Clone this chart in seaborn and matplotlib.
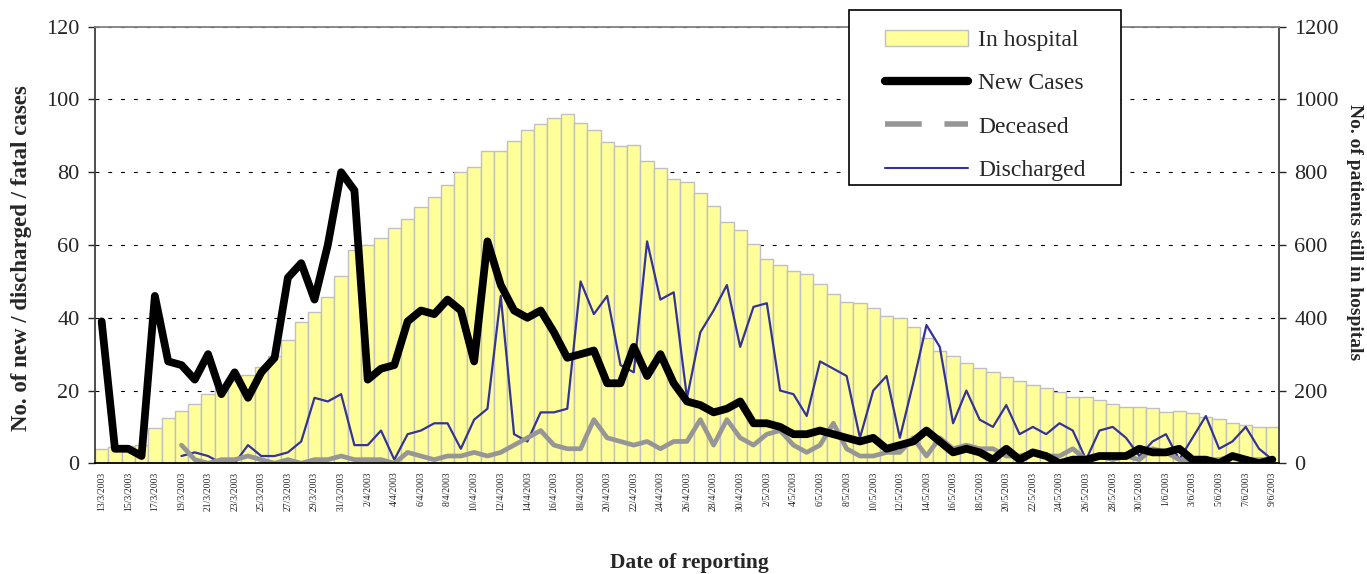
import numpy as np
import pandas as pd
import seaborn as sns
import matplotlib.pyplot as plt
from matplotlib.lines import Line2D
from matplotlib.patches import Patch, Rectangle

sns.set_style('white')
plt.rcParams['font.family'] = ['Liberation Serif', 'DejaVu Serif']

nan = np.nan

# daily figures, 13/3/2003 - 9/6/2003
in_hospital = [39, 44, 47, 50, 96, 124, 144, 163, 191, 206,
               225, 243, 266, 294, 339, 389, 415, 457, 516, 585,
               601, 618, 646, 672, 704, 733, 765, 801, 815, 858,
               858, 887, 915, 933, 950, 961, 936, 915, 883, 872,
               874, 831, 812, 782, 773, 743, 708, 663, 640, 603,
               562, 544, 528, 519, 494, 464, 444, 441, 426, 404,
               399, 374, 344, 310, 296, 275, 263, 250, 236, 227,
               216, 208, 195, 183, 182, 174, 163, 156, 156, 151,
               142, 145, 138, 127, 121, 112, 106, 101, 99]

new_cases = [39, 4, 4, 2, 46, 28, 27, 23, 30, 19,
             25, 18, 25, 29, 51, 55, 45, 60, 80, 75,
             23, 26, 27, 39, 42, 41, 45, 42, 28, 61,
             49, 42, 40, 42, 36, 29, 30, 31, 22, 22,
             32, 24, 30, 22, 17, 16, 14, 15, 17, 11,
             11, 10, 8, 8, 9, 8, 7, 6, 7, 4,
             5, 6, 9, 6, 3, 4, 3, 1, 4, 1,
             3, 2, 0, 1, 1, 2, 2, 2, 4, 3,
             3, 4, 1, 1, 0, 2, 1, 0, 1]

deceased = [nan, nan, nan, nan, nan, nan, 5, 1, 0, 1,
            1, 2, 1, 0, 1, 0, 1, 1, 2, 1,
            1, 1, 0, 3, 2, 1, 2, 2, 3, 2,
            3, 5, 7, 9, 5, 4, 4, 12, 7, 6,
            5, 6, 4, 6, 6, 12, 5, 12, 7, 5,
            8, 9, 5, 3, 5, 11, 4, 2, 2, 3,
            3, 7, 2, 7, 4, 5, 4, 4, 2, 2,
            3, 2, 2, 4, 1, 2, 1, 2, 1, 4,
            3, 1, 1, 1, 1, 2, 1, 1, 1]

discharged = [nan, nan, nan, nan, nan, nan, 2, 3, 2, 0,
              0, 5, 2, 2, 3, 6, 18, 17, 19, 5,
              5, 9, 1, 8, 9, 11, 11, 4, 12, 15,
              46, 8, 6, 14, 14, 15, 50, 41, 46, 27,
              25, 61, 45, 47, 18, 36, 42, 49, 32, 43,
              44, 20, 19, 13, 28, 26, 24, 7, 20, 24,
              7, 22, 38, 32, 11, 20, 12, 10, 16, 8,
              10, 8, 11, 9, 1, 9, 10, 7, 2, 6,
              8, 1, 7, 13, 4, 6, 10, 4, 1]

dates = pd.date_range('2003-03-13', '2003-06-09', freq='D')
date_labels = [f'{d.day}/{d.month}/{d.year}' for d in dates]

df = pd.DataFrame({
    'day': np.arange(len(dates)),
    'in_hospital': in_hospital,
    'new_cases': new_cases,
    'deceased': deceased,
    'discharged': discharged,
})

W, H = 1367, 574
fig = plt.figure(figsize=(W / 100, H / 100), dpi=100)
ax = fig.add_axes([95 / W, 1 - 463.3 / H, (1279 - 95) / W, (463.3 - 26.7) / H])
ax2 = ax.twinx()

# bars on the right axis, lines on the left axis (drawn on top)
sns.barplot(data=df, x='day', y='in_hospital', ax=ax2, color='#FFFF99',
            saturation=1, width=1.0, edgecolor='#C0C0C0', linewidth=1)

sns.lineplot(data=df.dropna(subset=['discharged']), x='day', y='discharged', ax=ax,
             color='#333399', lw=1.6, legend=False)
sns.lineplot(data=df.dropna(subset=['deceased']), x='day', y='deceased', ax=ax,
             color='#969696', lw=3.4, legend=False)
sns.lineplot(data=df, x='day', y='new_cases', ax=ax,
             color='black', lw=5.6, legend=False, solid_joinstyle='round')

ax.set_zorder(ax2.get_zorder() + 1)
ax.patch.set_visible(False)

ax.set_xlim(-0.5, len(dates) - 0.5)
ax.set_ylim(0, 120)
ax2.set_ylim(0, 1200)
ax.set_yticks(range(0, 121, 20))
ax2.set_yticks(range(0, 1201, 200))

ax.set_xticks(np.arange(0, len(dates), 2))
ax.set_xticklabels(date_labels[::2], rotation=90, fontsize=7)
ax.set_xticks(np.arange(-0.5, len(dates), 2), minor=True)
ax.tick_params(axis='x', which='major', length=0, pad=6)
ax.tick_params(axis='x', which='minor', length=4, direction='out', width=1)
ax.tick_params(axis='y', labelsize=16, length=5, direction='out', pad=6, width=1)
ax2.tick_params(axis='y', labelsize=16, length=5, direction='out', pad=6, width=1)

ax2.grid(axis='y', color='black', linestyle=(0, (3.5, 8)), linewidth=0.8)
ax2.set_axisbelow(True)
ax.grid(False)

for a in (ax, ax2):
    a.set_xlabel('')
    a.set_ylabel('')
for s in ax2.spines.values():
    s.set_visible(False)
ax.spines['left'].set_color('#404040')
ax.spines['right'].set_color('#404040')
ax.spines['top'].set_color('#808080')
ax.spines['bottom'].set_color('black')
for s in ax.spines.values():
    s.set_visible(True)
    s.set_linewidth(1.3)

fig.text(22 / W, 1 - 258 / H, 'No. of new / discharged / fatal cases', rotation=90,
         ha='center', va='center', fontsize=16.5, fontweight='bold')
fig.text(1355 / W, 1 - 232 / H, 'No. of patients still in hospitals', rotation=-90,
         ha='center', va='center', fontsize=14, fontweight='bold')
fig.text(689 / W, 1 - 563 / H, 'Date of reporting',
         ha='center', va='center', fontsize=15.5, fontweight='bold')

# legend box drawn separately so the padding can follow the original
fig.patches.append(Rectangle((849 / W, 1 - 185 / H), (1121 - 849) / W, (185 - 10) / H,
                             transform=fig.transFigure, facecolor='white',
                             edgecolor='black', linewidth=1.2, zorder=5))

handles = [
    Patch(facecolor='#FFFF99', edgecolor='#C0C0C0', linewidth=1),
    Line2D([], [], color='black', lw=6, solid_capstyle='round'),
    Line2D([], [], color='#969696', lw=4, dashes=(6.6, 4.1)),
    Line2D([], [], color='#333399', lw=1.5),
]
labels = ['In hospital', 'New Cases', 'Deceased', 'Discharged']
leg = fig.legend(handles, labels, loc='upper left',
                 bbox_to_anchor=(885 / W, 1 - 29.5 / H), bbox_transform=fig.transFigure,
                 fontsize=17, frameon=False, handlelength=3.5, handletextpad=0.45,
                 labelspacing=0.92, borderpad=0, borderaxespad=0)
leg.set_zorder(6)

fig.savefig('out.png', dpi=100)
